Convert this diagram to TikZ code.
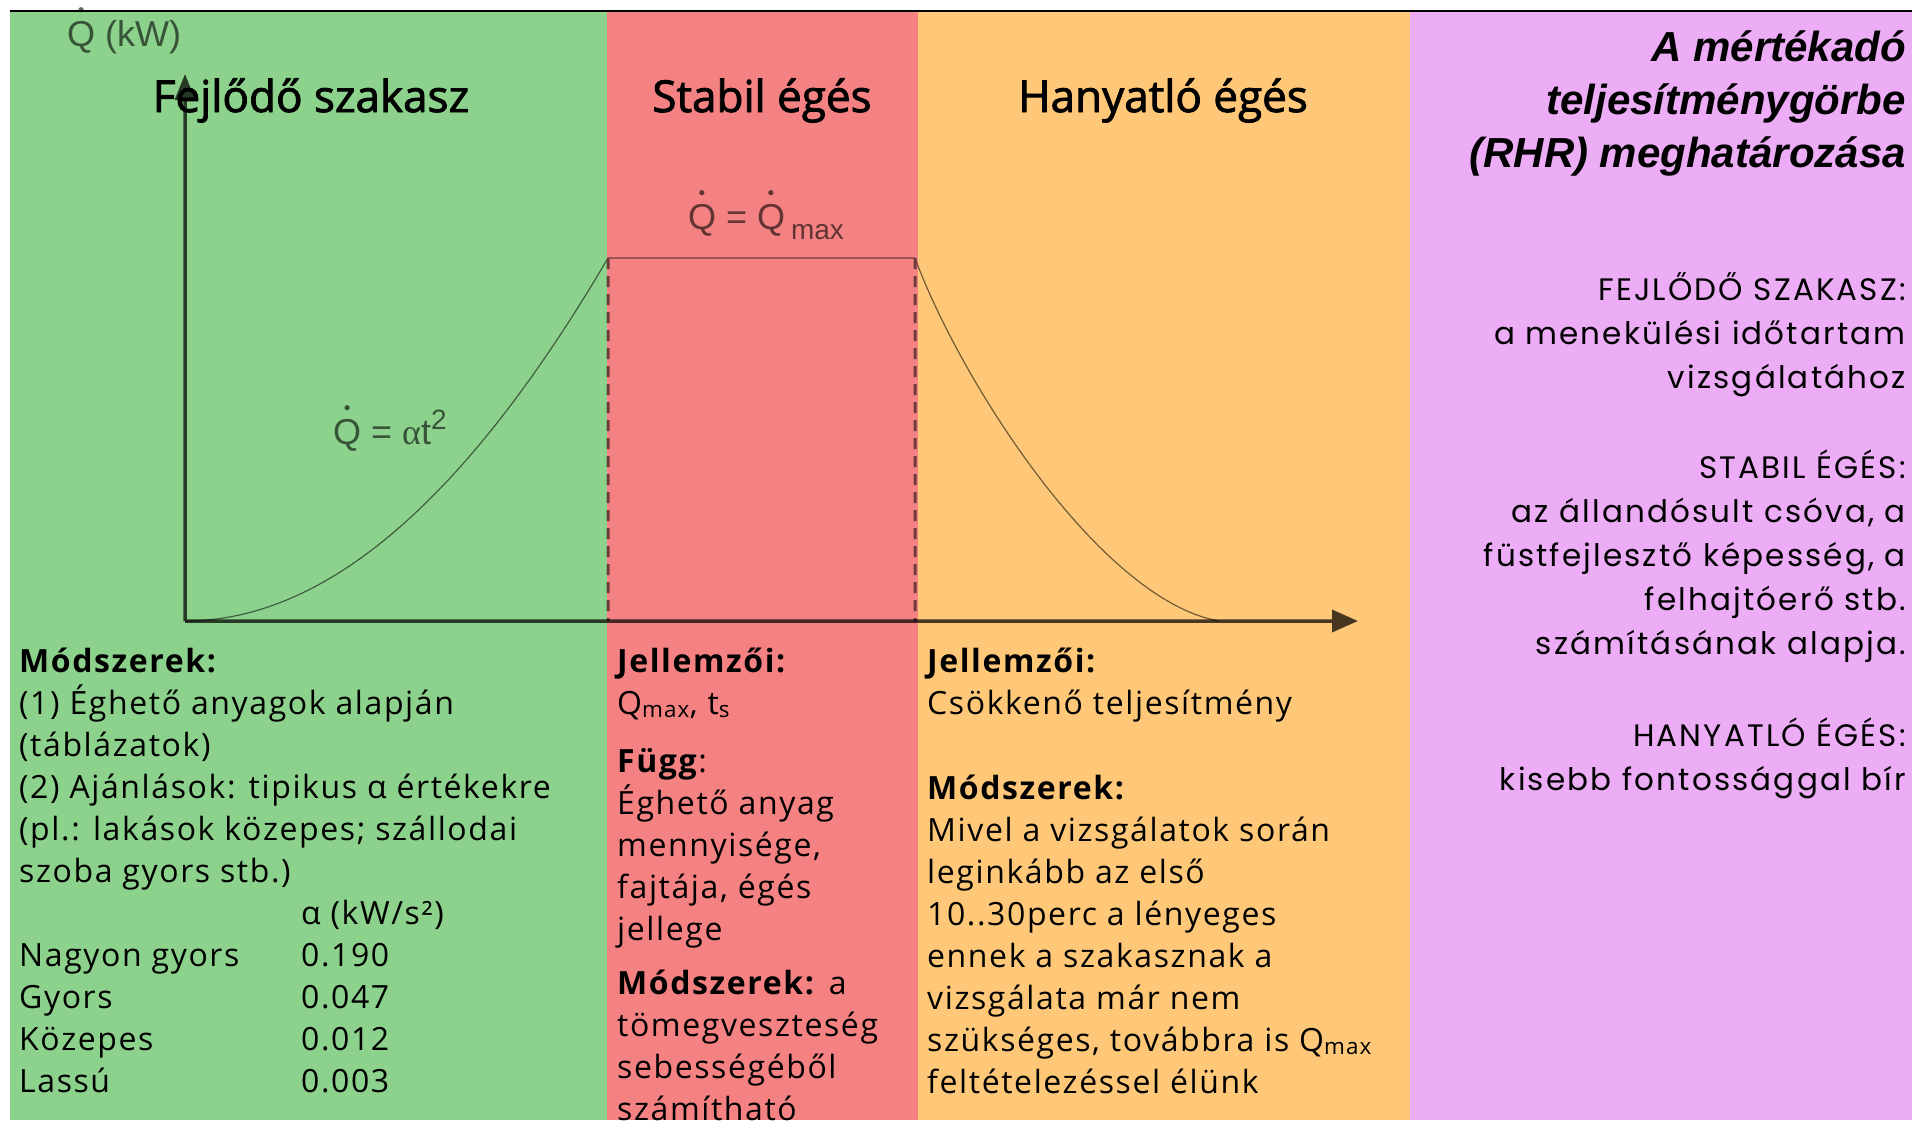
\documentclass[tikz,border=0pt]{standalone}
\usepackage{fontspec}
\setmainfont{Open Sans}[LetterSpace=5]
\newfontfamily\arialfont{Liberation Sans}
\newfontfamily\greekfont{Liberation Serif}
\newfontfamily\widefont{Poppins}[LetterSpace=7]
\newfontfamily\headfont{Open Sans}[FakeBold=2]
\usetikzlibrary{arrows.meta}

\definecolor{fejlodo}{RGB}{140,210,140}
\definecolor{stabil}{RGB}{245,130,130}
\definecolor{hanyatlo}{RGB}{255,200,120}
\definecolor{rhr}{RGB}{236,172,246}

% Q with a dot above
\newcommand\qd{\leavevmode\hbox{\ooalign{Q\cr\hidewidth\raisebox{0.83em}{\arialfont\fontsize{19}{19}\selectfont •}\hidewidth\cr}}}

\begin{document}
\begin{tikzpicture}
[x=1pt,y=-1pt,
phase/.style={font=\headfont\fontsize{44}{52}\selectfont,anchor=base,inner sep=0pt},
body/.style={font=\fontsize{32}{42}\selectfont,align=left,anchor=base west,inner sep=0pt},
side/.style={font=\widefont\fontsize{31}{44}\selectfont,align=right,anchor=base east,inner sep=0pt},
formula/.style={font=\arialfont\fontsize{36}{40}\selectfont,text opacity=0.6,inner sep=0pt},
axis/.style={line width=3.5pt},
curve/.style={line width=1.2pt}]
\useasboundingbox (0,0) rectangle (1912,1120);
% background columns
\fill[fejlodo] (10,12) rectangle (607,1120);
\fill[stabil] (607,12) rectangle (918,1120);
\fill[hanyatlo] (918,12) rectangle (1410,1120);
\fill[rhr] (1410,12) rectangle (1912,1120);
\draw[line width=2pt] (10,11) -- (1912,11);
% curve points
\coordinate (o) at (185,621);
\coordinate (ytop) at (185,74);
\coordinate (xend) at (1358,621);
\coordinate (pl) at (608,258);
\coordinate (pr) at (915,258);
\coordinate (pl0) at (608,621);
\coordinate (pr0) at (915,621);
\coordinate (pe) at (1219,621);
\begin{scope}[transparency group,opacity=0.55]
\draw[curve] (o) .. controls (326,621) and (466,500) .. (pl);
\draw[line width=1.2pt] (pl) -- (pr);
\draw[line width=3pt,dash pattern=on 11pt off 7pt] (pl) -- (pl0);
\draw[line width=3pt,dash pattern=on 11pt off 7pt] (pr) -- (pr0);
\draw[curve] (pr) .. controls (960,380) and (1100,600) .. (pe);
\end{scope}
% labels of the chart
\node[formula,anchor=base west] (qkw) at (67,46) {\qd\ (kW)};
\node[formula,anchor=base] (qmax) at (766,229) {\qd\ = \qd\,\raisebox{-0.3em}{\fontsize{28}{28}\selectfont max}};
\node[formula,anchor=base west] (qalpha) at (333,444) {\qd\ = {\greekfont α}t\raisebox{0.4em}{\fontsize{28}{28}\selectfont 2}};
\node[phase] (fejl) at (311,112) {Fejlődő szakasz};
\node[phase] (stab) at (762,112) {Stabil égés};
\node[phase] (hany) at (1163,112) {Hanyatló égés};
% axes over the headings
\begin{scope}[transparency group,opacity=0.72]
\draw[axis,-{Triangle[length=26pt,width=20pt]}] (o) -- (ytop);
\draw[axis,-{Triangle[length=26pt,width=22pt]}] (o) -- (xend);
\end{scope}
% green column
\node[body] (modsz1) at (19,882) {\textbf{Módszerek:}\\(1) Éghető anyagok alapján\\(táblázatok)\\(2) Ajánlások: tipikus α értékekre\\(pl.: lakások közepes; szállodai\\szoba gyors stb.)};
\node[body] (names) at (19,1092) {Nagyon gyors\\Gyors\\Közepes\\Lassú};
\node[body] (vals) at (301,1092) {α (kW/s²)\\0.190\\0.047\\0.012\\0.003};
% red column
\node[body] (jell2) at (617,714) {\textbf{Jellemzői:}\\Q\textsubscript{max}, t\textsubscript{s}};
\node[body] (fugg) at (617,940) {\textbf{Függ}:\\Éghető anyag\\mennyisége,\\fajtája, égés\\jellege};
\node[body] (modsz2) at (617,1120) {\textbf{Módszerek:} a\\tömegveszteség\\sebességéből\\számítható};
% orange column
\node[body] (jell3) at (927,714) {\textbf{Jellemzői:}\\Csökkenő teljesítmény};
\node[body] (modsz3) at (927,1093) {\textbf{Módszerek:}\\Mivel a vizsgálatok során\\leginkább az első\\10..30perc a lényeges\\ennek a szakasznak a\\vizsgálata már nem\\szükséges, továbbra is Q\textsubscript{max}\\feltételezéssel élünk};
% right column
\node[side,font=\arialfont\bfseries\itshape\fontsize{42}{53}\selectfont] (title) at (1906,167) {A mértékadó\\teljesítménygörbe\\(RHR) meghatározása};
\node[side] (s1) at (1906,388) {FEJLŐDŐ SZAKASZ:\\a menekülési időtartam\\vizsgálatához};
\node[side] (s2) at (1906,654) {STABIL ÉGÉS:\\az állandósult csóva, a\\füstfejlesztő képesség, a\\felhajtóerő stb.\\számításának alapja.};
\node[side] (s3) at (1906,790) {HANYATLÓ ÉGÉS:\\kisebb fontossággal bír};
\end{tikzpicture}
\end{document}
